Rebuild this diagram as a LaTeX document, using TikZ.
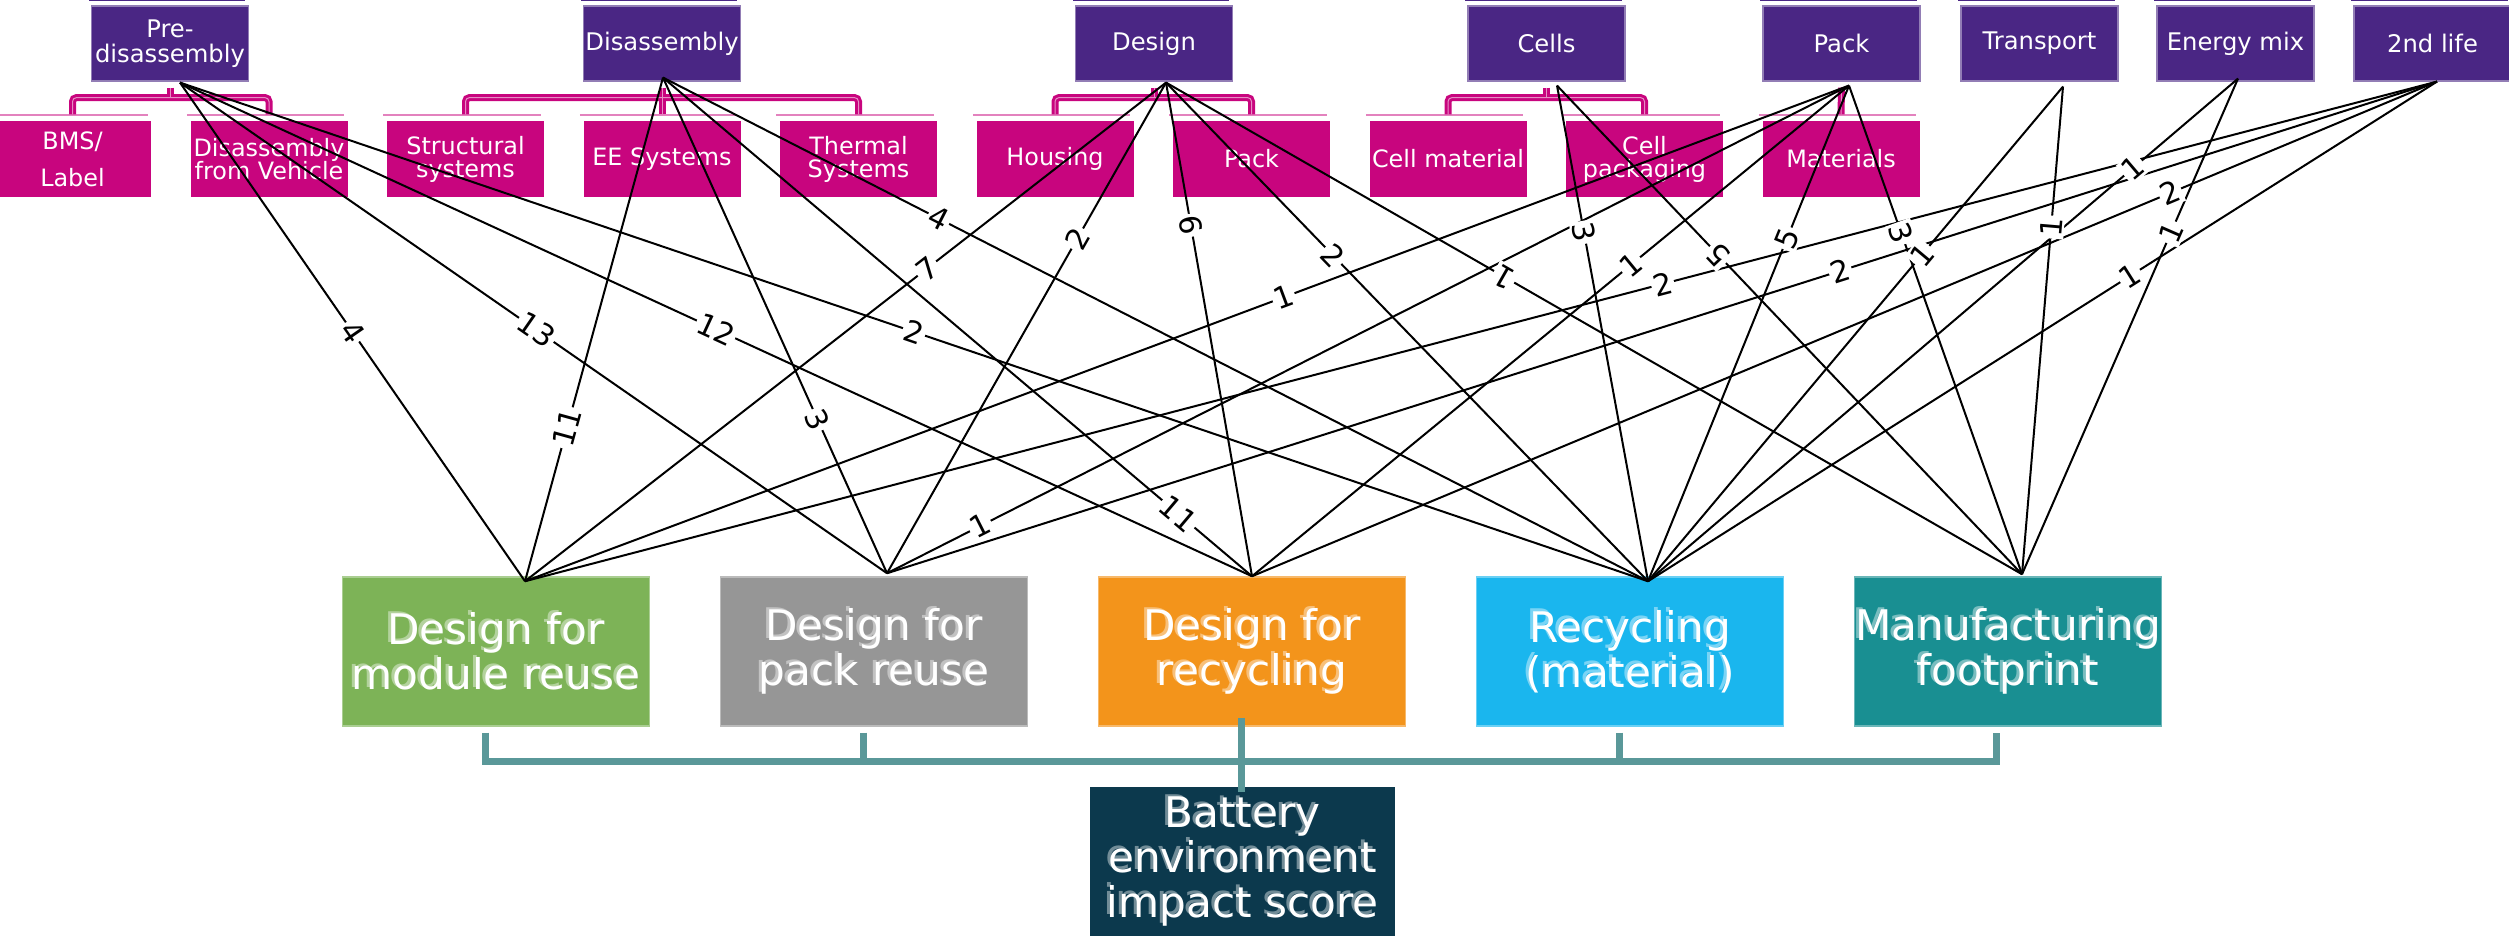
\documentclass[tikz,border=0pt]{standalone}
\usepackage{fontspec}
\setmainfont{DejaVu Sans}
\definecolor{purp}{RGB}{74,38,132}
\definecolor{pinkc}{RGB}{200,5,126}
\definecolor{greenc}{RGB}{125,179,87}
\definecolor{grayc}{RGB}{150,150,150}
\definecolor{orangec}{RGB}{243,148,27}
\definecolor{bluec}{RGB}{26,182,238}
\definecolor{tealc}{RGB}{25,143,146}
\definecolor{darkc}{RGB}{12,57,77}
\definecolor{brk}{RGB}{90,152,153}
\newcommand\tightlines{\lineskiplimit=-10pt\relax}
% coloured category box with a faint offset copy of its text behind the text
\newcommand\catnode[5]{%
  \node[catbox, fill=#2, draw=#2!65!white] (#1) at (#3,#4) {};
  \node[cattext, text opacity=0.42, xshift=-0.3mm, yshift=0.25mm] at (#1) {#5};
  \node[cattext] at (#1) {#5};
}
\begin{document}
\begin{tikzpicture}[x=0.1mm, y=-0.1mm,
  topbox/.style={fill=purp, draw=purp!60!white, line width=0.12mm,
    minimum width=15.7mm, minimum height=7.5mm, inner sep=0pt, text=white,
    align=center, font=\fontsize{6.9}{7.1}\selectfont\tightlines},
  subbox/.style={fill=pinkc, minimum width=15.7mm, minimum height=7.6mm,
    inner sep=0pt, text=white, align=center,
    font=\fontsize{6.8}{6.55}\selectfont\tightlines},
  catbox/.style={minimum width=30.7mm, minimum height=14.9mm, inner sep=0pt,
    line width=0.15mm},
  cattext/.style={text=white, align=center, inner sep=0pt,
    font=\fontsize{12}{12.8}\selectfont\tightlines},
  hbr/.style={draw=pinkc, line width=0.7mm, rounded corners=0.4mm},
  hbrin/.style={draw=pinkc!45!white, line width=0.1mm, rounded corners=0.4mm},
  tbr/.style={draw=brk, line width=0.7mm},
  link/.style={draw=black, line width=0.2mm},
  lbl/.style={fill=white, inner sep=0.2mm, sloped,
    font=\fontsize{8.5}{8.5}\selectfont}
]
\useasboundingbox (0,0) rectangle (2509,938);

% ---- top level ----
\node[topbox] (pre)   at (170,43.5)    {Pre-\\disassembly};
\node[topbox] (dis)   at (662,43.5)    {Disassembly};
\node[topbox] (des)   at (1154,43.5)   {Design};
\node[topbox] (cel)   at (1546.5,43.5) {Cells};
\node[topbox] (pck)   at (1841.5,43.5) {Pack};
\node[topbox] (tra)   at (2039.5,43.5) {Transport};
\node[topbox] (ene)   at (2235.5,43.5) {Energy mix};
\node[topbox] (lif)   at (2432.5,43.5) {2nd life};

% ---- second level ----
\node[subbox, font=\fontsize{6.8}{10.5}\selectfont] (bms) at (72.5,159) {BMS/\\Label};
\node[subbox] (dfv)   at (269,159)    {Disassembly\\from Vehicle};
\node[subbox] (str)   at (465.5,159)  {Structural\\systems};
\node[subbox] (ees)   at (662,159)    {EE Systems};
\node[subbox] (ths)   at (858.5,159)  {Thermal\\Systems};
\node[subbox] (hou)   at (1055,159)   {Housing};
\node[subbox] (pkp)   at (1251.5,159) {Pack};
\node[subbox] (cma)   at (1448,159)   {Cell material};
\node[subbox] (cpk)   at (1644.5,159) {Cell\\packaging};
\node[subbox] (mat)   at (1841,159)   {Materials};

% thin rules above the boxes
\foreach \b in {pre,dis,des,cel,pck,tra,ene,lif}
  \draw[purp, line width=0.15mm] ([shift={(-2,-5.5)}]\b.north west) -- ([shift={(-4,-5.5)}]\b.north east);
\foreach \b in {bms,dfv,str,ees,ths,hou,pkp,cma,cpk,mat}
  \draw[pinkc!50!white, line width=0.15mm] ([shift={(-3,-5.5)}]\b.north west) -- ([shift={(-4,-5.5)}]\b.north east);

% hierarchy brackets
\foreach \st in {hbr,hbrin}{
  \draw[\st] ([yshift=0.6mm]bms.north) |- ([yshift=-1.6mm]pre.south) -| ([yshift=0.6mm]dfv.north);
  \draw[\st] ([yshift=-0.6mm]pre.south) -- ([yshift=-1.6mm]pre.south);
  \draw[\st] ([yshift=0.6mm]str.north) |- ([yshift=-1.6mm]dis.south) -| ([yshift=0.6mm]ths.north);
  \draw[\st] ([yshift=-0.6mm]dis.south) -- ([yshift=0.6mm]ees.north);
  \draw[\st] ([yshift=0.6mm]hou.north) |- ([yshift=-1.6mm]des.south) -| ([yshift=0.6mm]pkp.north);
  \draw[\st] ([yshift=-0.6mm]des.south) -- ([yshift=-1.6mm]des.south);
  \draw[\st] ([yshift=0.6mm]cma.north) |- ([yshift=-1.6mm]cel.south) -| ([yshift=0.6mm]cpk.north);
  \draw[\st] ([yshift=-0.6mm]cel.south) -- ([yshift=-1.6mm]cel.south);
  \draw[\st] ([yshift=-0.6mm]pck.south) -- ([yshift=0.6mm]mat.north);
}

% ---- categories and score ----
\catnode{mr}{greenc}{496}{651.5}{Design for\\module reuse}
\catnode{pr}{grayc}{874}{651.5}{Design for\\pack reuse}
\catnode{rc}{orangec}{1252}{651.5}{Design for\\recycling}
\catnode{ml}{bluec}{1630}{651.5}{Recycling\\(material)}
\catnode{mf}{tealc}{2008}{651.5}{Manufacturing\\footprint}
\node[catbox, fill=darkc, minimum width=30.5mm] (score) at (1242.5,861.5) {};
\node[cattext, text opacity=0.42, xshift=-0.3mm, yshift=0.25mm] at (score) {Battery\\environment\\impact score};
\node[cattext] at (score) {Battery\\environment\\impact score};

% bracket joining the categories to the score
\draw[tbr] ([xshift=-1.1mm,yshift=-0.6mm]mr.south) |- ([yshift=-3.45mm]rc.south) -| ([xshift=-1.2mm,yshift=-0.6mm]mf.south);
\draw[tbr] ([xshift=-1.1mm,yshift=-0.6mm]pr.south) -- ++(0,29);
\draw[tbr] ([xshift=-1.1mm,yshift=-0.6mm]ml.south) -- ++(0,29);
\coordinate (stem) at ([xshift=-1.1mm,yshift=0.9mm]rc.south);
\path (stem |- score.north) coordinate (stemb);
\draw[tbr] (stem) -- ([yshift=-0.6mm]stemb);

% ---- connector end points ----
\coordinate (s-pre) at ([shift={(10,1)}]pre.south);
\coordinate (s-dis) at ([shift={(1,-4)}]dis.south);
\coordinate (s-des) at ([shift={(12,1)}]des.south);
\coordinate (s-cel) at ([shift={(10.5,4)}]cel.south);
\coordinate (s-pck) at ([shift={(7.5,4)}]pck.south);
\coordinate (s-tra) at ([shift={(23.5,5)}]tra.south);
\coordinate (s-ene) at ([shift={(2.5,-3)}]ene.south);
\coordinate (s-lif) at ([shift={(4.5,0)}]lif.south);
\coordinate (t-mr) at ([shift={(29,5)}]mr.north);
\coordinate (t-pr) at ([shift={(13,-3)}]pr.north);
\coordinate (t-rc) at ([shift={(0,0)}]rc.north);
\coordinate (t-ml) at ([shift={(18,5)}]ml.north);
\coordinate (t-mf) at ([shift={(14,-2)}]mf.north);

% ---- weighted connectors ----
\def\links{pre/mr/0.50/4, pre/pr/0.504/13, pre/rc/0.50/12, pre/ml/0.50/2,
  dis/mr/0.695/11, dis/pr/0.69/3, dis/rc/0.875/11, dis/ml/0.28/4,
  des/mr/0.373/7, des/pr/0.318/2, des/rc/0.289/6, des/ml/0.347/2,
  cel/ml/0.296/3,
  pck/mr/0.427/1, pck/pr/0.903/1, pck/rc/0.365/1, pck/ml/0.308/5, pck/mf/0.302/3,
  tra/ml/0.34/1, tra/mf/0.288/1, ene/ml/0.178/1, ene/mf/0.31/1,
  lif/mr/0.405/2, lif/pr/0.385/2, lif/rc/0.225/2, lif/ml/0.389/1}
\def\flipped{des/mf/0.395/1, cel/mf/0.346/5}
\foreach \s/\t/\p/\n in \links { \draw[link] (s-\s) -- (t-\t); }
\foreach \s/\t/\p/\n in \flipped { \draw[link] (s-\s) -- (t-\t); }
\foreach \s/\t/\p/\n in \links { \path (s-\s) -- (t-\t) node[lbl, pos=\p] {\n}; }
\foreach \s/\t/\p/\n in \flipped { \path (t-\t) -- (s-\s) node[lbl, allow upside down, pos=1-\p] {\n}; }
\end{tikzpicture}
\end{document}
